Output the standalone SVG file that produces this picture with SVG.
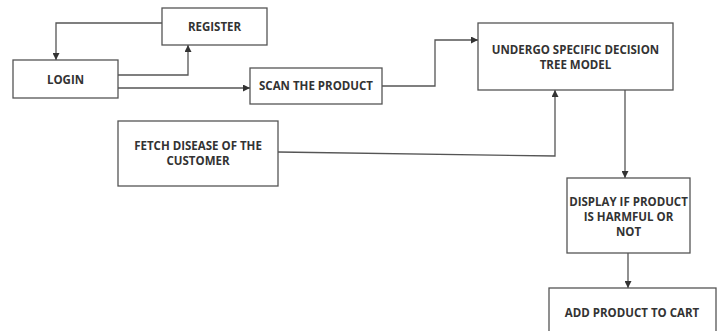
<svg xmlns="http://www.w3.org/2000/svg" width="719" height="331" viewBox="0 0 719 331">
<style>
.box{fill:#fff;stroke:#555;stroke-width:1.3}
.lbl{font-family:"Open Sans","Liberation Sans",sans-serif;font-weight:bold;font-size:11.5px;fill:#333;text-anchor:middle}
.con{fill:none;stroke:#555;stroke-width:1.3}
</style>
<defs>
<marker id="ah" viewBox="0 0 10 10" refX="10" refY="5" markerWidth="7" markerHeight="7" orient="auto" markerUnits="userSpaceOnUse">
<path d="M0,0 L10,5 L0,10 z" fill="#333"/>
</marker>
</defs>
<rect width="719" height="331" fill="#fff"/>
<g id="connectors">
<path class="con" d="M162,23 H56 V60" marker-end="url(#ah)"/>
<path class="con" d="M118,75 H188 V45" marker-end="url(#ah)"/>
<path class="con" d="M118,88 H250" marker-end="url(#ah)"/>
<path class="con" d="M382,86 H435 V40 H478" marker-end="url(#ah)"/>
<path class="con" d="M278,152 L555,156 V90" marker-end="url(#ah)"/>
<path class="con" d="M625,90 V178" marker-end="url(#ah)"/>
<path class="con" d="M628,253 V288" marker-end="url(#ah)"/>
</g>
<g id="register">
<rect class="box" x="162" y="8" width="105" height="37"/>
<text class="lbl" x="214.5" y="31">REGISTER</text>
</g>
<g id="login">
<rect class="box" x="13" y="60" width="105" height="38"/>
<text class="lbl" x="65.5" y="84">LOGIN</text>
</g>
<g id="scan">
<rect class="box" x="250" y="68" width="132" height="36"/>
<text class="lbl" x="316" y="90">SCAN THE PRODUCT</text>
</g>
<g id="undergo">
<rect class="box" x="478" y="23" width="195" height="67"/>
<text class="lbl" x="575.5" y="54">UNDERGO SPECIFIC DECISION</text>
<text class="lbl" x="575.5" y="69">TREE MODEL</text>
</g>
<g id="fetch">
<rect class="box" x="118" y="121" width="160" height="65"/>
<text class="lbl" x="198" y="150">FETCH DISEASE OF THE</text>
<text class="lbl" x="198" y="165">CUSTOMER</text>
</g>
<g id="display">
<rect class="box" x="567" y="178" width="123" height="75"/>
<text class="lbl" x="628.5" y="206">DISPLAY IF PRODUCT</text>
<text class="lbl" x="628.5" y="221">IS HARMFUL OR</text>
<text class="lbl" x="628.5" y="236">NOT</text>
</g>
<g id="add">
<rect class="box" x="549" y="288" width="167" height="50"/>
<text class="lbl" x="632" y="317">ADD PRODUCT TO CART</text>
</g>
</svg>
